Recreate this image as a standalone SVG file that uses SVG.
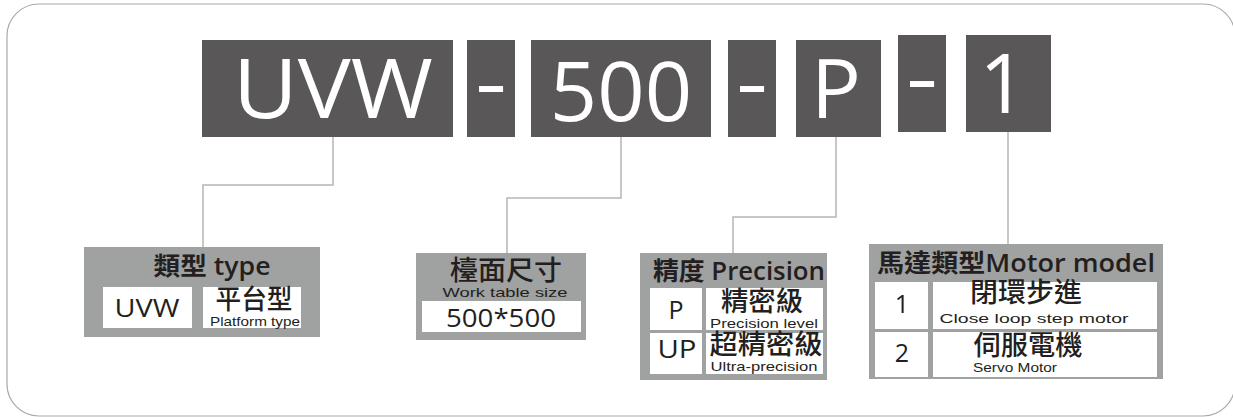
<svg xmlns="http://www.w3.org/2000/svg" width="1233" height="417" viewBox="0 0 1233 417">
<style>
.frame{fill:#fff;stroke:#a9a9a9;stroke-width:1.2}
.code{fill:#595758}
.ct{fill:#fff;font-family:"Open Sans","Liberation Sans",sans-serif;font-size:83px;text-anchor:middle}
.panel{fill:#a0a1a1}
.cell{fill:#fff}
.h{fill:#231f20;font-family:"Open Sans","Noto Sans CJK TC",sans-serif;font-size:25px;font-weight:600}
.cj{fill:#231f20;font-family:"Noto Sans CJK TC",sans-serif;font-size:27px;font-weight:500;text-anchor:middle}
.en{fill:#231f20;font-family:"Liberation Sans","DejaVu Sans",sans-serif;font-size:13px;text-anchor:middle}
.k{fill:#231f20;font-family:"Open Sans","Liberation Sans",sans-serif;font-size:25px;text-anchor:middle}
.conn{fill:none;stroke:#b5b5b5;stroke-width:1.5}
</style>
<rect class="frame" x="7" y="4" width="1228" height="412" rx="32" ry="32"/>

<g id="connectors">
<polyline class="conn" points="333,137 333,185 203,185 203,247"/>
<polyline class="conn" points="621,137 621,198 507,198 507,253"/>
<polyline class="conn" points="836,137 836,217 733,217 733,253"/>
<polyline class="conn" points="1008,132 1008,244"/>
</g>

<g id="code-uvw">
<rect class="code" x="202" y="40" width="251" height="97"/>
<text class="ct" x="333" y="118" textLength="200" lengthAdjust="spacingAndGlyphs">UVW</text>
</g>
<g id="dash-1">
<rect class="code" x="467" y="40" width="48" height="97"/>
<text class="ct" x="491" y="111" textLength="32" lengthAdjust="spacingAndGlyphs">-</text>
</g>
<g id="code-500">
<rect class="code" x="531" y="40" width="180" height="97"/>
<text class="ct" x="621" y="121">500</text>
</g>
<g id="dash-2">
<rect class="code" x="728" y="40" width="48" height="97"/>
<text class="ct" x="752" y="111" textLength="32" lengthAdjust="spacingAndGlyphs">-</text>
</g>
<g id="code-p">
<rect class="code" x="796" y="40" width="85" height="97"/>
<text class="ct" x="836" y="118">P</text>
</g>
<g id="dash-3">
<rect class="code" x="898" y="35" width="48" height="97"/>
<text class="ct" x="922" y="106" textLength="32" lengthAdjust="spacingAndGlyphs">-</text>
</g>
<g id="code-1">
<rect class="code" x="966" y="35" width="85" height="97"/>
<text class="ct" x="1003" y="113">1</text>
</g>

<g id="type">
<rect class="panel" x="84" y="247" width="236" height="90"/>
<text class="h" x="212" y="275" text-anchor="middle" textLength="117" lengthAdjust="spacingAndGlyphs">類型 type</text>
<rect class="cell" x="103" y="287" width="89" height="41"/>
<text class="k" x="147" y="317" font-weight="500" textLength="65" lengthAdjust="spacingAndGlyphs">UVW</text>
<rect class="cell" x="203" y="287" width="98" height="41"/>
<text class="cj" x="254" y="309" font-size="26" textLength="77" lengthAdjust="spacingAndGlyphs">平台型</text>
<text class="en" x="255" y="326" font-size="12" textLength="90" lengthAdjust="spacingAndGlyphs">Platform type</text>
</g>

<g id="size">
<rect class="panel" x="416" y="253" width="170" height="87"/>
<text class="cj" x="506" y="280" textLength="112" lengthAdjust="spacingAndGlyphs">檯面尺寸</text>
<text class="en" x="505" y="297" font-size="15" textLength="125" lengthAdjust="spacingAndGlyphs">Work table size</text>
<rect class="cell" x="422" y="301" width="159" height="31"/>
<text class="k" x="501" y="327" font-size="29" font-weight="500" textLength="110" lengthAdjust="spacingAndGlyphs">500*500</text>
</g>

<g id="precision">
<rect class="panel" x="640" y="253" width="187" height="127"/>
<text class="h" x="653" y="280" textLength="172" lengthAdjust="spacingAndGlyphs">精度 Precision</text>
<rect class="cell" x="650" y="288" width="52" height="42"/>
<text class="k" x="676" y="319" font-size="24" font-weight="500">P</text>
<rect class="cell" x="706" y="288" width="117" height="42"/>
<text class="cj" x="762" y="311" textLength="82" lengthAdjust="spacingAndGlyphs">精密級</text>
<text class="en" x="764" y="328" font-size="14" textLength="108" lengthAdjust="spacingAndGlyphs">Precision level</text>
<rect class="cell" x="650" y="333" width="52" height="41"/>
<text class="k" x="677" y="358" font-size="23" font-weight="500" textLength="39" lengthAdjust="spacingAndGlyphs">UP</text>
<rect class="cell" x="706" y="333" width="117" height="41"/>
<text class="cj" x="766" y="354" font-size="28" textLength="113" lengthAdjust="spacingAndGlyphs">超精密級</text>
<text class="en" x="764" y="371" font-size="14" textLength="107" lengthAdjust="spacingAndGlyphs">Ultra-precision</text>
</g>

<g id="motor">
<rect class="panel" x="869" y="244" width="294" height="135"/>
<text class="h" x="877" y="272" font-size="27" textLength="278" lengthAdjust="spacingAndGlyphs">馬達類型Motor model</text>
<rect class="cell" x="875" y="282" width="53" height="47"/>
<text class="k" x="902" y="313" font-size="27" font-weight="500">1</text>
<rect class="cell" x="933" y="282" width="224" height="47"/>
<text class="cj" x="1026" y="302" font-size="28" textLength="112" lengthAdjust="spacingAndGlyphs">閉環步進</text>
<text class="en" x="1034" y="323" font-size="17" textLength="189" lengthAdjust="spacingAndGlyphs">Close loop step motor</text>
<rect class="cell" x="875" y="332" width="53" height="45"/>
<text class="k" x="902" y="362" font-size="27" font-weight="500">2</text>
<rect class="cell" x="933" y="332" width="224" height="45"/>
<text class="cj" x="1028" y="355" font-size="28" textLength="109" lengthAdjust="spacingAndGlyphs">伺服電機</text>
<text class="en" x="1015" y="372" font-size="17" textLength="84" lengthAdjust="spacingAndGlyphs">Servo Motor</text>
</g>
</svg>
